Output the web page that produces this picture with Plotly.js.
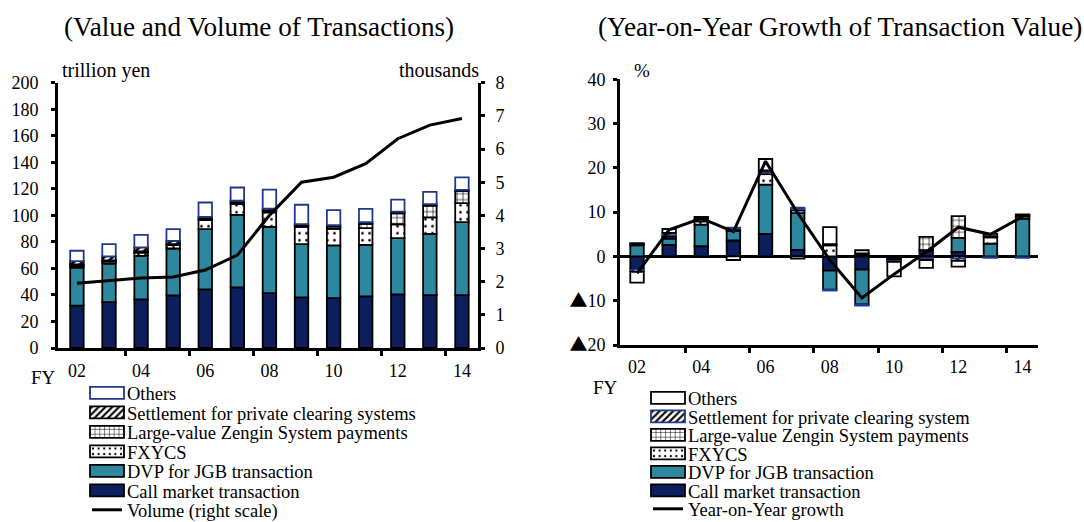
<!DOCTYPE html>
<html><head><meta charset="utf-8">
<script src="https://cdn.plot.ly/plotly-3.0.1.min.js"></script>
<style>html,body{margin:0;padding:0;background:#fff}#chart{width:1084px;height:522px}</style>
</head><body><div id="chart"></div>
<script>
// ---------- data ----------
const years = [2002,2003,2004,2005,2006,2007,2008,2009,2010,2011,2012,2013,2014];
const tickYears = [2002,2004,2006,2008,2010,2012,2014];
const tickText = ['02','04','06','08','10','12','14'];
const boundaryTicks = [2003.5,2005.5,2007.5,2009.5,2011.5,2013.5];

// Left: value of transactions (trillion yen)
const callValue       = [32.0,34.6,36.6,39.6,44.2,45.7,41.4,38.1,37.6,38.9,40.4,39.9,39.9];
const dvpValue        = [28.7,29.1,32.9,35.4,45.4,54.7,49.9,40.2,39.7,38.9,42.4,46.2,55.0];
const fxycsValue      = [1.5,1.6,2.5,2.5,6.9,8.3,11.0,13.0,12.5,12.5,10.5,12.3,14.3];
const zenginValue     = [0.8,0.8,0.8,0.8,0.8,0.9,1.2,1.3,1.8,3.3,8.3,9.0,9.2];
const settlementValue = [2.5,3.0,3.0,2.5,1.5,1.4,1.5,0.8,1.0,1.2,1.2,1.0,0.8];
const othersValue     = [7.8,9.2,9.5,8.8,10.9,10.0,14.4,14.6,11.3,10.1,9.1,9.3,9.5];
const volume          = [1.95,2.02,2.11,2.14,2.35,2.80,4.0,5.0,5.15,5.56,6.31,6.72,6.92];

// Right: contributions to year-on-year growth (%)
const callYoY       = [-3.0,2.6,2.3,3.6,5.1,1.5,-3.2,-3.0,-0.4,1.4,1.0,-0.2,-0.2];
const dvpYoY        = [2.5,1.4,4.9,2.2,11.1,8.3,-4.3,-7.8,0.0,0.0,3.2,2.9,8.5];
const fxycsYoY      = [0.3,0.5,0.7,0.3,2.4,0.6,2.5,0.4,-0.3,-0.4,-0.5,1.4,0.5];
const zenginYoY     = [0.2,0.3,0.3,0.2,0.5,0.3,0.3,0.3,-0.3,3.0,4.9,0.3,0.3];
const settlementYoY = [-0.5,0.5,0.3,0.2,0.3,0.3,-0.2,-0.3,-0.2,-0.4,-0.5,-0.1,-0.1];
const othersYoY     = [-2.4,0.9,0.4,-0.8,2.6,-0.5,3.8,0.7,-3.3,-1.8,-1.3,0.5,0.2];
const yoyGrowth     = [-3.8,6.0,8.6,5.6,21.5,9.8,-0.8,-9.4,-4.0,1.0,6.6,5.0,9.0];
const yoyTickVals   = [-20,-10,0,10,20,30,40];
const TRI = '<span style="font-family:\'Noto Sans CJK JP\'">▲</span>';
const yoyTickText   = [TRI + '20', TRI + '10', '0', '10', '20', '30', '40'];

// ---------- styles ----------
const NAVY = '#0B1F5E', TEAL = '#2F879D', OTHBLUE = '#1F3A8A';
const F = '"Liberation Serif", "Times New Roman", serif';
const BW = 0.42;

function bar(name, y, xa, ya, lg, rank, color, lineColor, pattern) {
  const m = {color: color, line: {color: lineColor, width: 1.8}};
  if (pattern) m.pattern = pattern;
  return {type:'bar', name:name, x:years, y:y, xaxis:xa, yaxis:ya, width:BW,
          marker:m, legend:lg, legendrank:rank, hoverinfo:'skip'};
}
const hatch = {shape:'/', fgcolor:'black', bgcolor:'white', size:6, solidity:0.45};
const grid  = {shape:'+', fgcolor:'black', bgcolor:'white', size:6, solidity:0.2};
const dots  = {shape:'.', fgcolor:'black', bgcolor:'white', size:7, solidity:0.12};

const traces = [
  bar('Call market transaction', callValue, 'x','y','legend',6, NAVY,'black'),
  bar('DVP for JGB transaction', dvpValue, 'x','y','legend',5, TEAL,'black'),
  bar('FXYCS', fxycsValue, 'x','y','legend',4, 'white','black', dots),
  bar('Large-value Zengin System payments', zenginValue, 'x','y','legend',3, 'white','black', grid),
  bar('Settlement for private clearing systems', settlementValue, 'x','y','legend',2, 'white','black', hatch),
  bar('Others', othersValue, 'x','y','legend',1, 'white', OTHBLUE),
  {type:'scatter', mode:'lines', name:'Volume (right scale)', x:years, y:volume, xaxis:'x', yaxis:'y2',
   line:{color:'black', width:3}, legend:'legend', legendrank:7, hoverinfo:'skip'},

  bar('Call market transaction', callYoY, 'x2','y3','legend2',6, NAVY,'black'),
  bar('DVP for JGB transaction', dvpYoY, 'x2','y3','legend2',5, TEAL,'black'),
  bar('FXYCS', fxycsYoY, 'x2','y3','legend2',4, 'white','black', dots),
  bar('Large-value Zengin System payments', zenginYoY, 'x2','y3','legend2',3, 'white','black', grid),
  bar('Settlement for private clearing system', settlementYoY, 'x2','y3','legend2',2, 'white', OTHBLUE, hatch),
  bar('Others', othersYoY, 'x2','y3','legend2',1, 'white','black'),
  {type:'scatter', mode:'lines', name:'Year-on-Year growth', x:years, y:yoyGrowth, xaxis:'x2', yaxis:'y3',
   line:{color:'black', width:3}, legend:'legend2', legendrank:7, hoverinfo:'skip'}
];

const W = 1084, H = 522;
const px = v => v / W, py = v => 1 - v / H;

const xCommon = {
  tickvals: tickYears, ticktext: tickText, ticks: '', showline: true, linewidth: 3, linecolor: 'black',
  showgrid: false, zeroline: false, fixedrange: true,
  minor: {tickvals: boundaryTicks, ticks: 'outside', ticklen: 5, tickwidth: 3, tickcolor: 'black', showgrid: false}
};
const yCommon = {
  ticks: 'outside', ticklen: 4, tickwidth: 3, tickcolor: 'black', showline: true, linewidth: 3,
  linecolor: 'black', showgrid: false, fixedrange: true
};
const LF = {family: F, size: 18.5};

const layout = {
  width: W, height: H, margin: {l:0, r:0, t:0, b:0, autoexpand:false},
  paper_bgcolor: 'white', plot_bgcolor: 'rgba(0,0,0,0)',
  font: {family: F, size: 18, color: 'black'},
  barmode: 'relative',
  xaxis: Object.assign({}, xCommon, {domain:[px(58), px(478)], range:[2001.41, 2014.5], anchor:'y', ticklabelstandoff: 4}),
  yaxis: Object.assign({}, yCommon, {domain:[py(348), py(82.7)], range:[0,200], tick0:0, dtick:20, zeroline:false, anchor:'x', ticklabelstandoff: 9}),
  yaxis2: Object.assign({}, yCommon, {overlaying:'y', side:'right', anchor:'x', range:[0,8], tick0:0, dtick:1, zeroline:false, ticklabelstandoff: 7}),
  xaxis2: Object.assign({}, xCommon, {domain:[px(620), px(1038)], range:[2001.47, 2014.48], anchor:'y3', ticklabelstandoff: 3}),
  yaxis3: Object.assign({}, yCommon, {domain:[py(345), py(79.3)], range:[-20,40],
    tickvals: yoyTickVals, ticktext: yoyTickText, ticklabelstandoff: 4,
    zeroline:true, zerolinewidth:3, zerolinecolor:'black', anchor:'x2'}),
  legend: {x: px(87), y: py(383), xanchor:'left', yanchor:'top', font:LF, maxheight: 600,
           bgcolor:'rgba(0,0,0,0)', tracegroupgap:0, itemwidth:30, traceorder:'normal'},
  legend2: {x: px(648), y: py(388), xanchor:'left', yanchor:'top', font:LF, maxheight: 600,
           bgcolor:'rgba(0,0,0,0)', tracegroupgap:0, itemwidth:30, traceorder:'normal'},
  annotations: [
    {text:'(Value and Volume of Transactions)', x:px(258.5), y:py(27), xref:'paper', yref:'paper', xanchor:'center', yanchor:'middle', showarrow:false, font:{size:27.2}},
    {text:'(Year-on-Year Growth of Transaction Value)', x:px(840), y:py(27), xref:'paper', yref:'paper', xanchor:'center', yanchor:'middle', showarrow:false, font:{size:27.2}},
    {text:'trillion yen', x:px(60), y:py(70), xref:'paper', yref:'paper', xanchor:'left', yanchor:'middle', showarrow:false, font:{size:20}},
    {text:'thousands', x:px(481), y:py(70), xref:'paper', yref:'paper', xanchor:'right', yanchor:'middle', showarrow:false, font:{size:20}},
    {text:'%', x:px(642), y:py(70), xref:'paper', yref:'paper', xanchor:'center', yanchor:'middle', showarrow:false, font:{size:19}},
    {text:'FY', x:px(43), y:py(377), xref:'paper', yref:'paper', xanchor:'center', yanchor:'middle', showarrow:false, font:{size:19}},
    {text:'FY', x:px(605), y:py(387), xref:'paper', yref:'paper', xanchor:'center', yanchor:'middle', showarrow:false, font:{size:19}}
  ]
};

// Tighten legend rows and widen bar swatches to match the reference layout.
function tidyLegends(gd) {
  const specs = [{sel: '.legend', firstY: 394, sp: 19.5}, {sel: '.legend2', firstY: 399, sp: 18.5}];
  specs.forEach(s => {
    const lg = gd.querySelector('g' + s.sel);
    if (!lg) return;
    const items = Array.from(lg.querySelectorAll('g.traces'));
    if (!items.length) return;
    const getY = el => {
      const m = /translate\(\s*([-\d.e]+)[ ,]+([-\d.e]+)/.exec(el.getAttribute('transform') || '');
      return m ? [parseFloat(m[1]), parseFloat(m[2])] : [0, 0];
    };
    items.sort((a, b) => getY(a)[1] - getY(b)[1]);
    const x0 = getY(items[0])[0], y0 = getY(items[0])[1];
    items.forEach((it, i) => it.setAttribute('transform', 'translate(' + x0 + ',' + (y0 + i * s.sp) + ')'));
    items.forEach(it => {
      it.querySelectorAll('path').forEach(p => {
        const d = (p.getAttribute('d') || '').replace(/\s/g, '');
        if (d === 'M6,6H-6V-6H6Z') p.setAttribute('d', 'M17,6H-17V-6H17Z');
      });
    });
    const t = items[0].querySelector('text');
    if (t) {
      const r = t.getBoundingClientRect();
      const delta = s.firstY - (r.top + r.height / 2);
      items.forEach((it, i) => it.setAttribute('transform', 'translate(' + x0 + ',' + (y0 + i * s.sp + delta) + ')'));
    }
  });
}

Plotly.newPlot('chart', traces, layout, {staticPlot:true, displayModeBar:false})
  .then(gd => tidyLegends(gd));
</script></body></html>
